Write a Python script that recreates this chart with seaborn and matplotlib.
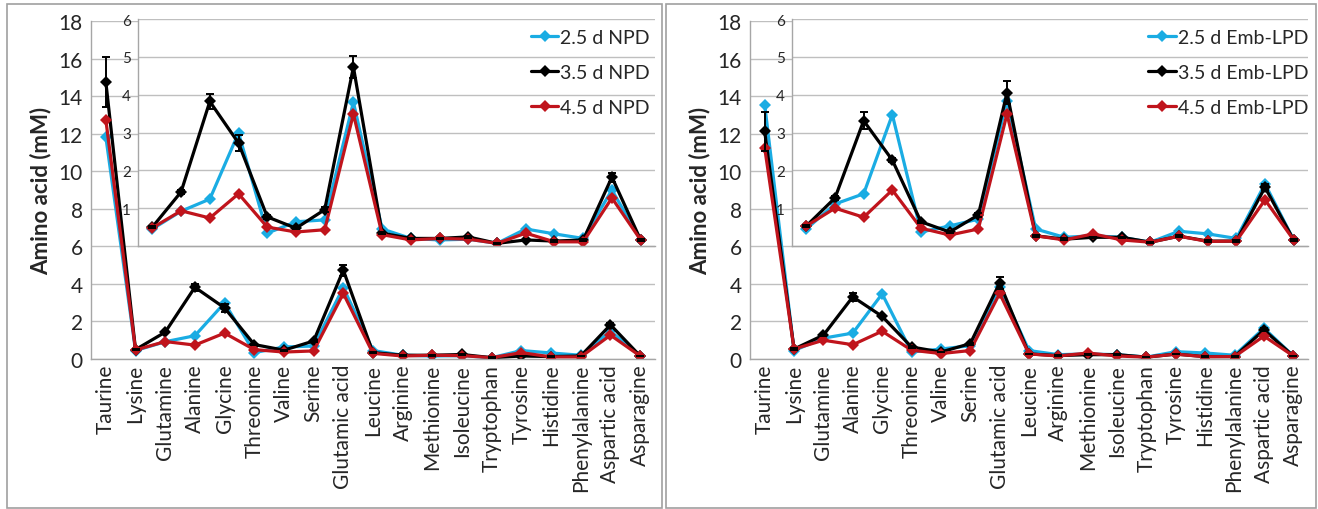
import numpy as np
import pandas as pd
import matplotlib
matplotlib.use("Agg")
import matplotlib.pyplot as plt
import seaborn as sns
from matplotlib.patches import Rectangle

# amino acids (x axis)
amino = ["Taurine", "Lysine", "Glutamine", "Alanine", "Glycine", "Threonine",
         "Valine", "Serine", "Glutamic acid", "Leucine", "Arginine", "Methionine",
         "Isoleucine", "Tryptophan", "Tyrosine", "Histidine", "Phenylalanine",
         "Aspartic acid", "Asparagine"]

# NPD panel (mM)
npd_labels = ["2.5 d NPD", "3.5 d NPD", "4.5 d NPD"]
npd_25 = [11.82, 0.45, 0.92, 1.24, 2.99, 0.34, 0.64, 0.69, 3.80, 0.45, 0.20,
          0.16, 0.18, 0.07, 0.45, 0.32, 0.20, 1.48, 0.16]
npd_35 = [14.75, 0.50, 1.43, 3.82, 2.72, 0.77, 0.47, 0.96, 4.73, 0.34, 0.20,
          0.20, 0.24, 0.07, 0.16, 0.13, 0.16, 1.82, 0.16]
npd_45 = [12.73, 0.48, 0.93, 0.74, 1.38, 0.50, 0.37, 0.43, 3.49, 0.30, 0.16,
          0.20, 0.18, 0.07, 0.34, 0.11, 0.11, 1.27, 0.16]
npd_35_err = [1.35, 0.03, 0.05, 0.20, 0.22, 0.05, 0.03, 0.06, 0.30, 0.02, 0.02,
              0.02, 0.02, 0.01, 0.02, 0.02, 0.02, 0.12, 0.02]

# Emb-LPD panel (mM)
lpd_labels = ["2.5 d Emb-LPD", "3.5 d Emb-LPD", "4.5 d Emb-LPD"]
lpd_25 = [13.55, 0.45, 1.11, 1.38, 3.47, 0.37, 0.53, 0.71, 3.84, 0.45, 0.23,
          0.27, 0.23, 0.10, 0.39, 0.32, 0.20, 1.64, 0.16]
lpd_35 = [12.12, 0.53, 1.27, 3.31, 2.27, 0.64, 0.37, 0.82, 4.05, 0.27, 0.18,
          0.23, 0.23, 0.10, 0.26, 0.13, 0.13, 1.55, 0.16]
lpd_45 = [11.25, 0.53, 1.00, 0.76, 1.48, 0.47, 0.29, 0.45, 3.49, 0.27, 0.16,
          0.32, 0.16, 0.10, 0.26, 0.12, 0.13, 1.22, 0.16]
lpd_35_err = [1.05, 0.03, 0.05, 0.22, 0.05, 0.03, 0.02, 0.05, 0.30, 0.02, 0.02,
              0.02, 0.02, 0.01, 0.02, 0.02, 0.02, 0.08, 0.02]

colors = ["#1AACE3", "#000000", "#C0141C"]
grid_c = "#BFBFBF"
spine_c = "#A6A6A6"

sns.set_style("white")
plt.rcParams["font.family"] = ["Lato", "DejaVu Sans"]

fig = plt.figure(figsize=(13.18, 5.10), dpi=100)
W, H = 1318, 510


def px_axes(x0, x1, y_top, y_bot, **kw):
    return fig.add_axes([x0 / W, (H - y_bot) / H, (x1 - x0) / W, (y_bot - y_top) / H], **kw)


def style_axes(ax, n):
    ax.set_xlim(-0.5, n - 0.5)
    for s in ["top", "right"]:
        ax.spines[s].set_visible(False)
    for s in ["left", "bottom"]:
        ax.spines[s].set_color(spine_c)
        ax.spines[s].set_linewidth(1)
    ax.grid(axis="y", color=grid_c, linewidth=1)
    ax.grid(axis="x", visible=False)
    ax.set_axisbelow(True)
    ax.set_xticks(np.arange(-0.5, n, 1), minor=True)
    ax.tick_params(axis="x", which="major", length=0)
    ax.tick_params(axis="x", which="minor", length=4, color=spine_c, direction="out")
    ax.tick_params(axis="y", length=4, color=spine_c, direction="out", pad=2)
    ax.set_xlabel("")
    ax.set_ylabel("")


def draw_series(ax, x, vals, errs, labels):
    df = pd.DataFrame({
        "amino": list(x) * 3,
        "value": vals[0] + vals[1] + vals[2],
        "group": [labels[0]] * len(x) + [labels[1]] * len(x) + [labels[2]] * len(x),
    })
    sns.lineplot(data=df, x="amino", y="value", hue="group", palette=colors,
                 marker="D", markersize=6, linewidth=2.3, markeredgewidth=0,
                 sort=False, ax=ax, legend=False)
    ax.errorbar(x, vals[1], yerr=errs, fmt="none", ecolor="black",
                elinewidth=1.4, capsize=3, capthick=1.4, zorder=5)


def panel(x0, x1, ix0, vals, errs, labels, leg_x):
    ax = px_axes(x0, x1, 22, 360)
    draw_series(ax, amino, vals, errs, labels)
    style_axes(ax, len(amino))
    ax.set_ylim(0, 18)
    ax.set_yticks(np.arange(0, 19, 2))
    ax.set_xticks(range(len(amino)))
    ax.set_xticklabels(amino, rotation=90, fontsize=15)
    ax.tick_params(axis="y", labelsize=15)
    ax.set_ylabel("Amino acid (mM)", fontsize=16, fontweight="bold", labelpad=5)

    ins = px_axes(ix0, x1, 20, 247, zorder=3)
    ins.set_facecolor("white")
    sub = [v[1:] for v in vals]
    draw_series(ins, amino[1:], sub, errs[1:], labels)
    style_axes(ins, len(amino) - 1)
    ins.set_ylim(0, 6)
    ins.set_yticks(range(0, 7))
    ins.set_yticklabels([""] + [str(i) for i in range(1, 7)])
    ins.set_xticks(range(len(amino) - 1))
    ins.set_xticklabels([])
    ins.tick_params(axis="y", labelsize=11, pad=1)

    handles = [plt.Line2D([], [], color=c, marker="D", markersize=6,
                          markeredgewidth=0, linewidth=2.3) for c in colors]
    ins.legend(handles, labels, loc="upper right", bbox_to_anchor=(leg_x, 0.955),
               frameon=False, fontsize=14, handlelength=1.4, handletextpad=0.1,
               labelspacing=0.92, borderpad=0, borderaxespad=0)
    return ax


panel(91, 655, 138, [npd_25, npd_35, npd_45], npd_35_err, npd_labels, 0.99)
panel(750, 1308, 792, [lpd_25, lpd_35, lpd_45], lpd_35_err, lpd_labels, 1.0)

# panel frames
for fx0, fx1 in [(7, 662), (666, 1316)]:
    fig.patches.append(Rectangle((fx0 / W, 1 / H), (fx1 - fx0) / W, (H - 6) / H,
                                 transform=fig.transFigure, fill=False,
                                 edgecolor="#A0A0A0", linewidth=1.2))

fig.savefig("out.png", dpi=100)
